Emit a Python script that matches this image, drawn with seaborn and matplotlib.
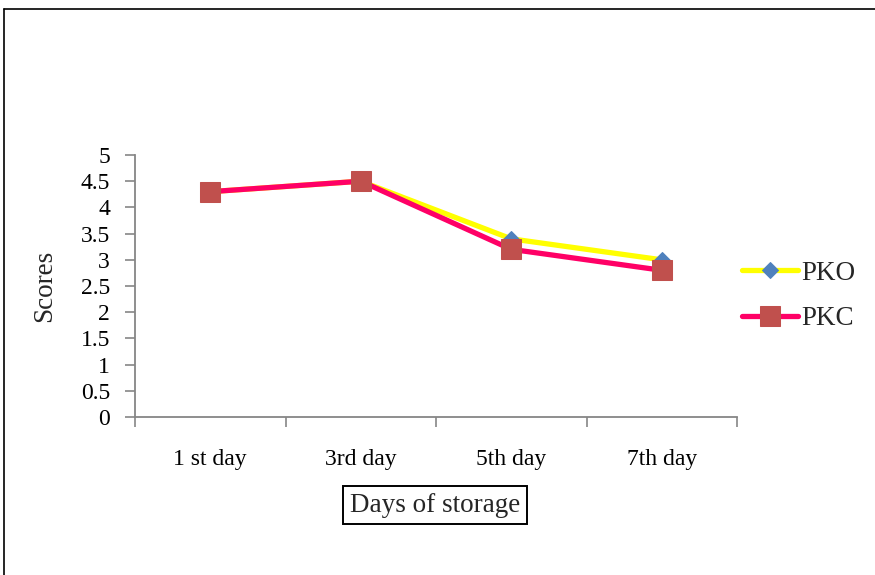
import matplotlib
matplotlib.use("Agg")
import matplotlib.pyplot as plt
from matplotlib.lines import Line2D
from matplotlib.ticker import FixedLocator
import seaborn as sns
import pandas as pd

days = ["1 st day", "3rd day", "5th day", "7th day"]
pko = [4.3, 4.5, 3.4, 3.0]
pkc = [4.3, 4.5, 3.2, 2.8]
y_ticks = [0, 0.5, 1, 1.5, 2, 2.5, 3, 3.5, 4, 4.5, 5]
y_tick_labels = ["0", "0.5", "1", "1.5", "2", "2.5", "3", "3.5", "4", "4.5", "5"]

sns.set_theme(style="white")
plt.rcParams["font.family"] = ["Liberation Serif", "DejaVu Serif"]

df = pd.DataFrame({"day": days, "PKO": pko, "PKC": pkc})

fig = plt.figure(figsize=(8.75, 5.75), dpi=100)
ax = fig.add_axes([135 / 875, 1 - 417 / 575, (737 - 135) / 875, (417 - 155) / 575])

sns.lineplot(data=df, x="day", y="PKO", ax=ax, color="#FFFF00", linewidth=3.8,
             marker="D", markersize=7.8, markerfacecolor="#4F81BD",
             markeredgecolor="#4F81BD", sort=False, label="PKO")
sns.lineplot(data=df, x="day", y="PKC", ax=ax, color="#FF0066", linewidth=3.8,
             marker="s", markersize=14.5, markerfacecolor="#C0504D",
             markeredgecolor="#C0504D", sort=False, label="PKC")

ax.set_xlim(-0.5, len(days) - 0.5)
ax.set_ylim(0, 5)
ax.set_yticks(y_ticks)
ax.set_yticklabels(y_tick_labels)

# category labels centred, tick marks at category boundaries
ax.set_xticks(range(len(days)))
ax.set_xticklabels(days)
ax.xaxis.set_minor_locator(FixedLocator([i - 0.5 for i in range(len(days) + 1)]))
ax.tick_params(axis="x", which="major", length=0, pad=23, labelsize=17, colors="black")
ax.tick_params(axis="x", which="minor", length=7, width=1.2, color="#868686", bottom=True)
ax.tick_params(axis="y", which="major", length=7, width=1.2, color="#868686",
               left=True, pad=11, labelsize=17, labelcolor="black")

for side in ("top", "right"):
    ax.spines[side].set_visible(False)
for side in ("left", "bottom"):
    ax.spines[side].set_color("#868686")
    ax.spines[side].set_linewidth(1.3)

ax.set_ylabel("Scores", fontsize=19.5, labelpad=17)
ax.set_xlabel("")
fig.text(435 / 875, 1 - 505 / 575, "Days of storage", ha="center", va="center",
         fontsize=19.5,
         bbox=dict(boxstyle="square,pad=0.25", facecolor="white",
                   edgecolor="black", linewidth=1.4))

ax.legend(loc="center left", bbox_to_anchor=(1.0, 0.462), frameon=False,
          fontsize=19.5, handlelength=2.07, handletextpad=0.12,
          labelspacing=0.75, borderaxespad=0.0, borderpad=0.2)

# outer frame lines along the top and left edges
fig.add_artist(Line2D([4 / 875, 1.0], [1 - 9 / 575, 1 - 9 / 575],
                      transform=fig.transFigure, color="black", linewidth=1.2))
fig.add_artist(Line2D([4 / 875, 4 / 875], [0, 1 - 9 / 575],
                      transform=fig.transFigure, color="black", linewidth=1.2))

fig.savefig("out.png", dpi=100)
